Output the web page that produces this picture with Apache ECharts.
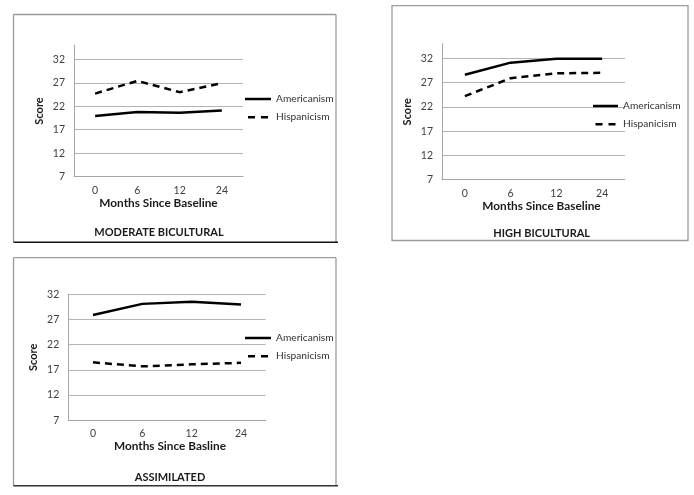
<!DOCTYPE html>
<html><head><meta charset="utf-8">
<script src="https://cdn.jsdelivr.net/npm/echarts@6/dist/echarts.min.js"></script>
<style>html,body{margin:0;padding:0;background:#fff}#c{width:694px;height:495px}</style>
</head><body><div id="c"></div>
<script>
const months = ['0','6','12','24'];
const panelTitles = ['MODERATE BICULTURAL','HIGH BICULTURAL','ASSIMILATED'];
const xNames = ['Months Since Baseline','Months Since Baseline','Months Since Basline'];
const yName = 'Score';
const seriesNames = ['Americanism','Hispanicism'];
const modAmericanism = [19.9, 20.8, 20.6, 21.1];
const modHispanicism = [24.7, 27.4, 25.0, 26.9];
const highAmericanism = [28.6, 31.1, 31.9, 31.9];
const highHispanicism = [24.2, 27.9, 28.9, 29.0];
const asmAmericanism = [27.9, 30.1, 30.5, 30.0];
const asmHispanicism = [18.5, 17.7, 18.1, 18.4];
const yMin = 7, yStep = 5;
const yMaxes = [35, 35, 32];

const FONT = 'Lato, "Open Sans", sans-serif';
const chart = echarts.init(document.getElementById('c'), null, {renderer:'canvas'});

const grids = [
  {left:74, top:45.2, width:169, height:131.5},
  {left:442, top:43.7, width:183, height:136},
  {left:68.3, top:294.3, width:197.4, height:126}
];
const namePad = [[0,0,0,0],[0,0,0,16],[0,0,0,6]];
const data = [[modAmericanism, modHispanicism],[highAmericanism, highHispanicism],[asmAmericanism, asmHispanicism]];

const xAxes = [], yAxes = [], series = [];
grids.forEach((g, i) => {
  xAxes.push({
    type:'category', gridIndex:i, data:months, boundaryGap:true,
    axisLine:{lineStyle:{color:'#a6a6a6', width:1}}, axisTick:{show:false},
    axisLabel:{color:'#404040', fontSize:10.5, fontFamily:FONT, margin:8},
    name:xNames[i], nameLocation:'middle', nameGap:20,
    nameTextStyle:{fontSize:11.8, fontWeight:'bold', color:'#1a1a1a', fontFamily:FONT, padding:namePad[i]}
  });
  yAxes.push({
    type:'value', gridIndex:i, min:yMin, max:yMaxes[i], interval:yStep,
    axisLine:{show:true, lineStyle:{color:'#a6a6a6', width:1}}, axisTick:{show:false},
    axisLabel:{color:'#404040', fontSize:10.5, fontFamily:FONT, margin:9, showMaxLabel: yMaxes[i]===32},
    splitLine:{show:true, showMinLine:false, showMaxLine: yMaxes[i]===32, lineStyle:{color:'#b3b3b3', width:1}},
    name:yName, nameLocation:'middle', nameRotate:90, nameGap:29,
    nameTextStyle:{fontSize:11, fontWeight:'bold', color:'#1a1a1a', fontFamily:FONT}
  });
  seriesNames.forEach((nm, k) => {
    series.push({
      type:'line', name:nm, xAxisIndex:i, yAxisIndex:i, data:data[i][k],
      symbol:'none', smooth:false, silent:true,
      lineStyle:{color:'#000', width:2.5, type: k===0 ? 'solid' : [7,5]},
      itemStyle:{color:'#000'}
    });
  });
});

const solidIcon = 'rect';
const dashIcon = 'path://M0,0H7V2.5H0Z M13,0H20V2.5H13Z';
const legendPos = [{left:245, top:94, w:26},{left:593, top:101, w:25},{left:245, top:333, w:26}];
const legends = legendPos.map(p => ({
  left:p.left, top:p.top, orient:'vertical', itemWidth:p.w, itemHeight:2.5, itemGap:8.2, padding:0,
  data:[{name:seriesNames[0], icon:solidIcon},{name:seriesNames[1], icon:dashIcon}],
  itemStyle:{color:'#000'},
  textStyle:{fontSize:10.2, color:'#333', fontFamily:FONT},
  selectedMode:false
}));

const titles = [
  {text:panelTitles[0], left:159, top:227, textAlign:'center'},
  {text:panelTitles[1], left:541.7, top:228, textAlign:'center'},
  {text:panelTitles[2], left:170, top:471.5, textAlign:'center'}
].map(t => Object.assign(t, {padding:0, textStyle:{fontSize:11, fontWeight:'bold', color:'#1a1a1a', fontFamily:FONT}}));

const grey = {stroke:'#9a9a9a', lineWidth:1.3};
function ln(x1,y1,x2,y2,st){return {type:'line', shape:{x1,y1,x2,y2}, style:Object.assign({}, st), silent:true};}
const graphics = [
  ln(13.5,14.5,13.5,242,grey), ln(13.5,14.5,336,14.5,grey), ln(336,14.5,336,242,grey),
  ln(13.5,242.3,338,242.3,{stroke:'#111', lineWidth:1.6}),
  {type:'rect', shape:{x:392,y:5.7,width:296,height:234.8}, style:{fill:'none', stroke:'#9a9a9a', lineWidth:1.3}, silent:true},
  ln(13.5,257.7,13.5,486,grey), ln(13.5,257.7,336,257.7,grey), ln(336,257.7,336,486,grey),
  ln(13.5,485.8,338,485.8,{stroke:'#333', lineWidth:1.6})
];

chart.setOption({
  animation:false,
  title:titles,
  legend:legends,
  grid:grids,
  xAxis:xAxes,
  yAxis:yAxes,
  series:series,
  graphic:graphics
});
</script></body></html>
